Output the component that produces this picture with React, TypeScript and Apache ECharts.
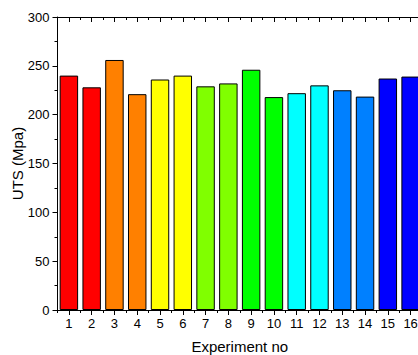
import React, { useEffect, useRef } from "react";
import * as echarts from "echarts";

const categories = ["1", "2", "3", "4", "5", "6", "7", "8", "9", "10", "11", "12", "13", "14", "15", "16"];
const utsValues = [240, 228, 256, 221, 236, 240, 229, 232, 246, 218, 222, 230, 225, 218.5, 237, 239];
const barColors = [
  "#FF0000", "#FF0000", "#FF8000", "#FF8000", "#FFFF00", "#FFFF00", "#80FF00", "#80FF00",
  "#00FF00", "#00FF00", "#00FFFF", "#00FFFF", "#0080FF", "#0080FF", "#0000FF", "#0000FF",
];
const yTicks = { min: 0, max: 300, interval: 50 };

const FONT = "'Liberation Sans', Arial, sans-serif";

export default function App() {
  const ref = useRef<HTMLDivElement>(null);
  useEffect(() => {
    if (!ref.current) return;
    const chart = echarts.init(ref.current, null, { renderer: "svg" });
    const lineStyle = { color: "#000", width: 1 };
    const baseX = (extra: any) => ({
      type: "category",
      data: categories,
      boundaryGap: true,
      axisLine: { show: true, lineStyle },
      splitLine: { show: false },
      ...extra,
    });
    chart.setOption({
      animation: false,
      backgroundColor: "#fff",
      grid: { left: 57.5, right: -4, top: 17, bottom: 45, outerBoundsMode: "none", containLabel: false },
      xAxis: [
        baseX({
          position: "bottom",
          name: "Experiment no",
          nameLocation: "middle",
          nameGap: 29,
          nameMoveOverlap: false,
          nameTextStyle: { fontFamily: FONT, fontSize: 15, color: "#000" },
          axisTick: { show: true, alignWithLabel: true, length: 5, inside: false, lineStyle },
          axisLabel: { show: true, fontFamily: FONT, fontSize: 13, color: "#000", margin: 7, interval: 0 },
        }),
        baseX({
          position: "bottom",
          axisTick: { show: true, alignWithLabel: false, length: 3, inside: false, lineStyle, interval: 0 },
          axisLabel: { show: false },
        }),
        baseX({
          position: "top",
          axisTick: { show: true, alignWithLabel: true, length: 5, inside: true, lineStyle, interval: 0 },
          axisLabel: { show: false },
        }),
        baseX({
          position: "top",
          axisTick: { show: true, alignWithLabel: false, length: 3, inside: true, lineStyle, interval: 0 },
          axisLabel: { show: false },
        }),
      ],
      yAxis: {
        type: "value",
        min: yTicks.min,
        max: yTicks.max,
        interval: yTicks.interval,
        name: "UTS (Mpa)",
        nameLocation: "middle",
        nameGap: 33,
        nameMoveOverlap: false,
        nameTextStyle: { fontFamily: FONT, fontSize: 15, color: "#000" },
        axisLine: { show: true, lineStyle },
        axisTick: { show: true, length: 5, lineStyle },
        minorTick: { show: true, splitNumber: 2, length: 3, lineStyle },
        splitLine: { show: false },
        minorSplitLine: { show: false },
        axisLabel: { fontFamily: FONT, fontSize: 13, color: "#000", margin: 8 },
      },
      series: [
        {
          type: "bar",
          xAxisIndex: 0,
          barWidth: "81%",
          data: utsValues.map((v, i) => ({
            value: v,
            itemStyle: { color: barColors[i], borderColor: "#000", borderWidth: 1 },
          })),
        },
      ],
    });
    return () => chart.dispose();
  }, []);
  return (
    <div
      ref={ref}
      style={{ position: "absolute", left: 0, top: 0, width: 418, height: 355, overflow: "hidden" }}
    />
  );
}
